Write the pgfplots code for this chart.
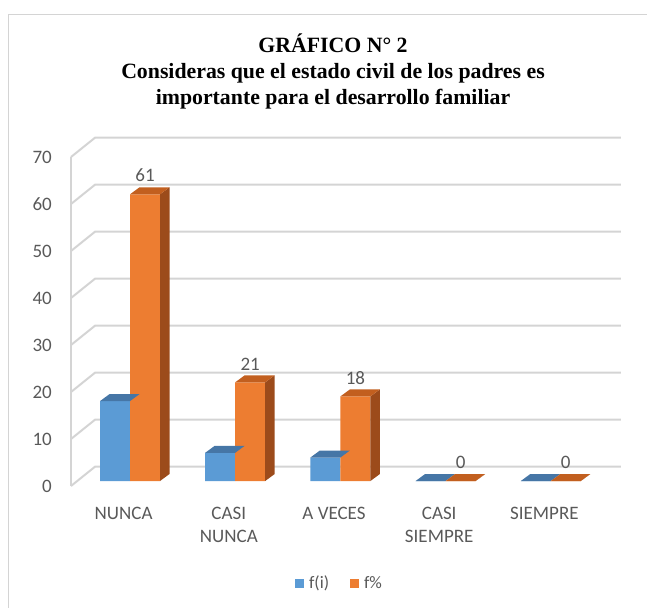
\documentclass[border=0pt]{standalone}
\usepackage{fontspec}
\setmainfont{Carlito}
\newfontfamily\titlefont{Liberation Serif}
\usepackage{pgfplots}
\pgfplotsset{compat=1.18}
\usepackage{pgfplotstable}

\definecolor{tgray}{HTML}{595959}
\definecolor{gridc}{HTML}{D4D4D4}
\definecolor{bfront}{HTML}{5B9BD5}
\definecolor{btop}{HTML}{4676A6}
\definecolor{ofront}{HTML}{ED7D31}
\definecolor{otop}{HTML}{C25F1F}
\definecolor{oside}{HTML}{9C4B1B}

% top face of a blue bar (mark sits on the category centre, at the bar top)
\pgfdeclareplotmark{bluetop}{%
  \pgfpathmoveto{\pgfpoint{-23.6bp}{0bp}}%
  \pgfpathlineto{\pgfpoint{6.4bp}{0bp}}%
  \pgfpathlineto{\pgfpoint{15.9bp}{7bp}}%
  \pgfpathlineto{\pgfpoint{-14.1bp}{7bp}}%
  \pgfpathclose
  \pgfsetfillcolor{btop}\pgfusepathqfill}
% side + top face of an orange bar, height from \barh
\pgfdeclareplotmark{orangebox}{%
  \pgfpathmoveto{\pgfpoint{36.4bp}{0bp}}%
  \pgfpathlineto{\pgfpoint{45.9bp}{7bp}}%
  \pgfpathlineto{\pgfpoint{45.9bp}{7bp-\barh*4.7bp}}%
  \pgfpathlineto{\pgfpoint{36.4bp}{-\barh*4.7bp}}%
  \pgfpathclose
  \pgfsetfillcolor{oside}\pgfusepathqfill
  \pgfpathmoveto{\pgfpoint{6.4bp}{0bp}}%
  \pgfpathlineto{\pgfpoint{36.4bp}{0bp}}%
  \pgfpathlineto{\pgfpoint{45.9bp}{7bp}}%
  \pgfpathlineto{\pgfpoint{15.9bp}{7bp}}%
  \pgfpathclose
  \pgfsetfillcolor{otop}\pgfusepathqfill}

\pgfplotstableread{
x fi fp
0 17 61
1 6  21
2 5  18
3 0  0
4 0  0
}\datatable

\begin{document}
\begin{tikzpicture}
\useasboundingbox (0bp,0bp) rectangle (647bp,-608bp);
\draw[gridc, line width=1.5bp] (8.5bp,-14.5bp) rectangle (700bp,-700bp);
\node[align=center, font=\titlefont\bfseries\fontsize{21.8bp}{26bp}\selectfont]
  at (333bp,-71bp) {GRÁFICO N° 2\\Consideras que el estado civil de los padres es\\importante para el desarrollo familiar};

\begin{axis}[
    at={(71bp,-486bp)}, anchor=south west,
    x=105.2bp, y=4.7bp,
    xmin=-0.5, xmax=4.728, ymin=-1.064, ymax=73.2,
    clip=false,
    axis line style={draw=none},
    major tick length=0pt,
    xtick={0,1,2,3,4},
    xticklabels={NUNCA,{CASI\\NUNCA},A VECES,{CASI\\SIEMPRE},SIEMPRE},
    ytick={0,10,...,70},
    /pgf/number format/assume math mode=true,
    xticklabel style={anchor=north, align=center, inner sep=0pt, yshift=-21bp,
        text=tgray, font=\fontsize{19bp}{23bp}\selectfont},
    yticklabel style={anchor=east, inner sep=0pt, xshift=-19bp, yshift=-5bp,
        text=tgray, font=\fontsize{19bp}{23bp}\selectfont},
    legend style={draw=none, at={(0.491,-0.278)}, anchor=center,
        legend columns=2, text=tgray, font=\fontsize{17.5bp}{20bp}\selectfont,
        /tikz/every even column/.append style={column sep=16bp},
        nodes={inner xsep=5bp}},
    legend image code/.code={\fill[#1] (0bp,-4.5bp) rectangle (9bp,4.5bp);},
]
% back wall and left wall
\addplot[gridc, line width=2bp, forget plot] coordinates {(-0.5,-1.064) (-0.5,68.936)};
\addplot[gridc, line width=2bp, forget plot] coordinates {(-0.5,-1.064) (-0.272,3.036) (4.728,3.036)};
\addplot[gridc, line width=2bp, forget plot] coordinates {(-0.5,8.936) (-0.272,13.036) (4.728,13.036)};
\addplot[gridc, line width=2bp, forget plot] coordinates {(-0.5,18.936) (-0.272,23.036) (4.728,23.036)};
\addplot[gridc, line width=2bp, forget plot] coordinates {(-0.5,28.936) (-0.272,33.036) (4.728,33.036)};
\addplot[gridc, line width=2bp, forget plot] coordinates {(-0.5,38.936) (-0.272,43.036) (4.728,43.036)};
\addplot[gridc, line width=2bp, forget plot] coordinates {(-0.5,48.936) (-0.272,53.036) (4.728,53.036)};
\addplot[gridc, line width=2bp, forget plot] coordinates {(-0.5,58.936) (-0.272,63.036) (4.728,63.036)};
\addplot[gridc, line width=2bp, forget plot] coordinates {(-0.5,68.936) (-0.272,73.036) (4.728,73.036)};

% f(i)
\addplot[ybar, bar width=30bp, bar shift=-8.6bp, fill=bfront, draw=none]
    table[x=x, y=fi] {\datatable};
\addlegendentry{f(i)}
\addplot[only marks, mark=bluetop, forget plot] table[x=x, y=fi] {\datatable};

% f%
\addplot[ybar, bar width=30bp, bar shift=21.4bp, fill=ofront, draw=none,
    nodes near coords,
    every node near coord/.append style={anchor=south, inner sep=0pt,
        xshift=21.4bp, yshift=12bp,
        text=tgray, font=\fontsize{19bp}{23bp}\selectfont}]
    table[x=x, y=fp] {\datatable};
\addlegendentry{f\%}
\addplot[only marks, mark=orangebox, forget plot,
    visualization depends on={\thisrow{fp} \as \barh}]
    table[x=x, y=fp] {\datatable};
\end{axis}
\end{tikzpicture}
\end{document}
